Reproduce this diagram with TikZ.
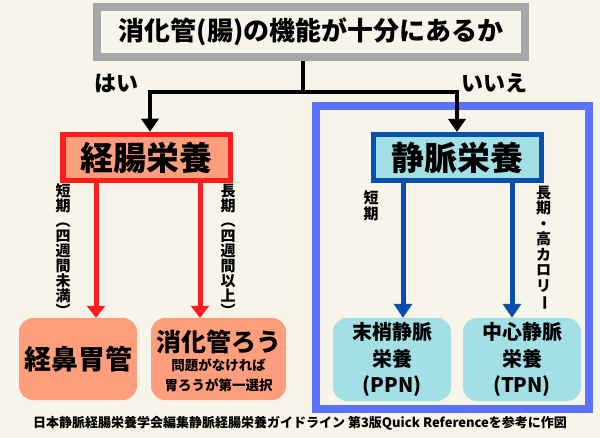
\documentclass[tikz,border=0pt]{standalone}
\usepackage{fontspec}
\setmainfont{Noto Sans CJK JP}
\usetikzlibrary{arrows.meta,calc}
\definecolor{bg}{HTML}{F7F5EA}
\definecolor{qgray}{HTML}{A6A6A6}
\definecolor{redc}{HTML}{FF1C1C}
\definecolor{salmon}{HTML}{FF9E7D}
\definecolor{dblue}{HTML}{0A4FB0}
\definecolor{cyanf}{HTML}{A3E0E6}
\definecolor{frameblue}{HTML}{5C73FF}
\tikzset{
  qbox/.style={draw=qgray, line width=8pt, fill=bg, minimum width=428pt, minimum height=50pt, inner sep=0pt, font=\bfseries\fontsize{26}{26}\selectfont},
  enbox/.style={draw=redc, fill=salmon, line width=5.5pt, minimum width=167.5pt, minimum height=46pt, inner sep=0pt, font=\bfseries\fontsize{33}{33}\selectfont},
  pnbox/.style={draw=dblue, fill=cyanf, line width=5pt, minimum width=168pt, minimum height=46pt, inner sep=0pt, font=\bfseries\fontsize{33}{33}\selectfont},
  leaf/.style={rounded corners=14pt, inner sep=0pt, align=center, minimum height=82pt},
  redleaf/.style={leaf, fill=salmon},
  blueleaf/.style={leaf, fill=cyanf, font=\bfseries\fontsize{20}{26.5}\selectfont},
  vlab/.style={align=center, inner sep=0pt, font=\bfseries\fontsize{15}{15}\selectfont},
  vlabb/.style={align=center, inner sep=0pt, font=\bfseries\fontsize{15}{15.5}\selectfont},
  yn/.style={inner sep=0pt, font=\bfseries\fontsize{22}{22}\selectfont},
  blk/.style={draw=black, line width=4pt},
  blkarrow/.style={blk, -{Triangle[width=17pt,length=13pt]}},
  redarrow/.style={draw=redc, line width=5pt, -{Triangle[width=18pt,length=12pt]}},
  bluearrow/.style={draw=dblue, line width=5pt, -{Triangle[width=18pt,length=14pt]}},
}
\begin{document}
\begin{tikzpicture}[x=1pt,y=-1pt]
\fill[bg] (0,0) rectangle (600,438);
\useasboundingbox (0,0) rectangle (600,438);

% blue frame
\node[draw=frameblue, line width=7.5pt, minimum width=273pt, minimum height=303pt, inner sep=0pt] (frame) at (452.5,257.5) {};

% question
\node[qbox] (q) at (311,32) {消化管(腸)の機能が十分にあるか};

\node[yn] (yes) at (116,83) {はい};
\node[yn] (no) at (494,83) {いいえ};

% main boxes
\node[enbox] (en) at (146.75,157.5) {経腸栄養};
\node[pnbox] (pn) at (457.5,157.5) {静脈栄養};

% leaves
\node[redleaf, minimum width=118pt, font=\bfseries\fontsize{27}{27}\selectfont] (ng) at (78,359) {経鼻胃管};
\node[redleaf, minimum width=135pt] (gs) at (218.5,359) {};
\node[inner sep=0pt, font=\bfseries\fontsize{25}{25}\selectfont] (gs1) at (218.5,342) {消化管ろう};
\node[inner sep=0pt, font=\bfseries\fontsize{13.5}{13.5}\selectfont] (gs2) at (218.5,365) {問題がなければ};
\node[inner sep=0pt, font=\bfseries\fontsize{13.5}{13.5}\selectfont] (gs3) at (218.5,385) {胃ろうが第一選択};
\node[blueleaf, minimum width=118pt, minimum height=83pt] (ppn) at (392,359.5) {末梢静脈\\栄養\\(PPN)};
\node[blueleaf, minimum width=118pt, minimum height=83pt] (tpn) at (522,359.5) {中心静脈\\栄養\\(TPN)};

% vertical labels
\node[vlab] (l1) at (63,250) {短\\期\\︵\\四\\週\\間\\未\\満\\︶};
\node[vlab] (l2) at (228,250) {長\\期\\︵\\四\\週\\間\\以\\上\\︶};
\node[vlabb] (l3) at (371,206) {短\\期};
\node[vlabb] (l4) at (543.5,248.5) {長\\期\\・\\高\\カ\\ロ\\リ\\\rotatebox[origin=c]{-90}{ー}};

% connectors
\coordinate (j) at (303,92);
\coordinate (xa) at (150,0);
\coordinate (xb) at (457,0);
\coordinate (xc) at (96,0);
\coordinate (xd) at (200,0);
\coordinate (xe) at (403,0);
\coordinate (xf) at (512,0);
\draw[blk] (q.south -| j) -- (j);
\draw[blkarrow] (j) -| (en.north -| xa);
\draw[blkarrow] (j) -| (pn.north -| xb);
\draw[redarrow] (en.south -| xc) -- (ng.north -| xc);
\draw[redarrow] (en.south -| xd) -- (gs.north -| xd);
\draw[bluearrow] (pn.south -| xe) -- (ppn.north -| xe);
\draw[bluearrow] (pn.south -| xf) -- (tpn.north -| xf);

% footer
\node[inner sep=0pt, font=\bfseries\fontsize{13}{13}\selectfont] (foot) at (300,423) {日本静脈経腸栄養学会編集静脈経腸栄養ガイドライン 第3版Quick Referenceを参考に作図};
\end{tikzpicture}
\end{document}
